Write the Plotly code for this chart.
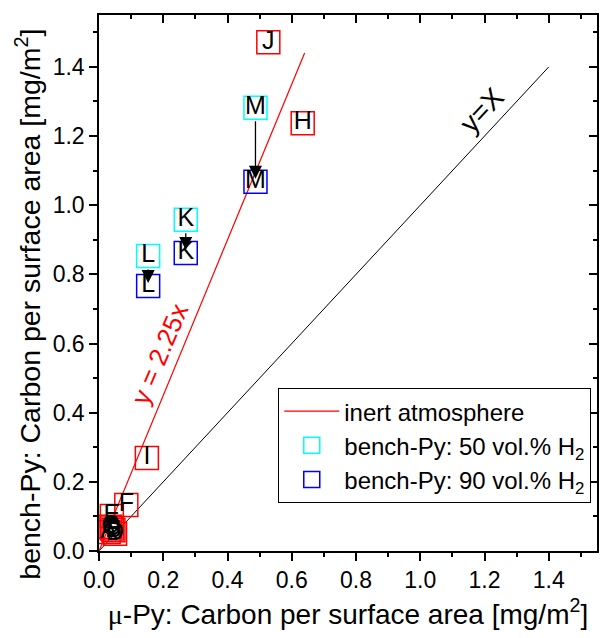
import plotly.graph_objects as go

# ---- data ----
inert_labels = ["A", "B", "C", "D", "G", "E", "F", "I", "H", "J"]
inert_x = [0.030, 0.045, 0.035, 0.050, 0.040, 0.040, 0.085, 0.149, 0.634, 0.527]
inert_y = [0.055, 0.060, 0.070, 0.050, 0.065, 0.101, 0.133, 0.269, 1.237, 1.471]

h50_labels = ["M", "K", "L"]
h50_x = [0.487, 0.270, 0.153]
h50_y = [1.282, 0.958, 0.853]

h90_labels = ["M", "K", "L"]
h90_x = [0.487, 0.270, 0.153]
h90_y = [1.068, 0.862, 0.766]

fit_slope = 2.25
fit_x = [0.0, 0.64]
fit_y = [fit_slope * v for v in fit_x]

ident_x = [0.0, 1.4]
ident_y = [0.0, 1.4]

axis_range = [0, 1.55]
FONT = "Liberation Sans, Arial, sans-serif"

fig = go.Figure()

# y = x reference line
fig.add_trace(go.Scatter(x=ident_x, y=ident_y, mode="lines",
                         line=dict(color="black", width=1), showlegend=False,
                         hoverinfo="skip"))
# fit line (inert atmosphere)
fig.add_trace(go.Scatter(x=fit_x, y=fit_y, mode="lines", name="inert atmosphere",
                         line=dict(color="red", width=1.2)))

# inert atmosphere points
fig.add_trace(go.Scatter(x=inert_x, y=inert_y, mode="markers+text", text=inert_labels,
                         textposition="middle center",
                         textfont=dict(size=25, color="black", family=FONT),
                         marker=dict(symbol="square-open", size=23,
                                     line=dict(color="red", width=1.5), color="red"),
                         showlegend=False))

# 50 vol.% H2
fig.add_trace(go.Scatter(x=h50_x, y=h50_y, mode="markers",
                         name="bench-Py: 50 vol.% H<sub>2</sub>",
                         marker=dict(symbol="square-open", size=23, color="#00ffff",
                                     line=dict(color="#00ffff", width=1.5))))
fig.add_trace(go.Scatter(x=h50_x, y=h50_y, mode="text", text=h50_labels,
                         textposition="middle center",
                         textfont=dict(size=25, color="black", family=FONT),
                         showlegend=False))
# 90 vol.% H2
fig.add_trace(go.Scatter(x=h90_x, y=h90_y, mode="markers",
                         name="bench-Py: 90 vol.% H<sub>2</sub>",
                         marker=dict(symbol="square-open", size=23, color="#0000ff",
                                     line=dict(color="#0000ff", width=1.5))))
fig.add_trace(go.Scatter(x=h90_x, y=h90_y, mode="text", text=h90_labels,
                         textposition="middle center",
                         textfont=dict(size=25, color="black", family=FONT),
                         showlegend=False))

# empty trace for mirrored inside ticks
fig.add_trace(go.Scatter(x=[], y=[], xaxis="x2", yaxis="y2", showlegend=False,
                         hoverinfo="skip"))

annotations = []
for xa, ya, xb, yb in zip(h50_x, h50_y, h90_x, h90_y):
    annotations.append(dict(x=xb, y=yb, ax=xa, ay=ya, xref="x", yref="y",
                            axref="x", ayref="y", text="", showarrow=True,
                            arrowhead=2, arrowsize=2.0, arrowwidth=1.3,
                            arrowcolor="black", standoff=3, startstandoff=12))

annotations.append(dict(x=1.19, y=1.275, xref="x", yref="y", text="y=X",
                        showarrow=False, textangle=-47,
                        font=dict(size=28, color="black", family=FONT)))
annotations.append(dict(x=0.188, y=0.571, xref="x", yref="y", text="y = 2.25x",
                        showarrow=False, textangle=-67,
                        font=dict(size=26, color="red", family=FONT)))
# y-axis title (placed as in the reference, slightly below the axis centre)
annotations.append(dict(x=-0.142, y=0.46, xref="paper", yref="paper",
                        text="bench-Py: Carbon per surface area [mg/m<sup>2</sup>]",
                        showarrow=False, textangle=-90, xanchor="center", yanchor="middle",
                        font=dict(size=28.5, color="black", family=FONT)))

axis_common = dict(range=axis_range, dtick=0.2, tick0=0, tickformat=".1f",
                   showgrid=False, zeroline=False, showline=True, linecolor="black",
                   linewidth=1.5, mirror=True, ticks="outside", ticklen=8,
                   tickwidth=1.5, tickcolor="black",
                   tickfont=dict(size=23, color="black", family=FONT),
                   minor=dict(dtick=0.1, ticks="outside", ticklen=4, tickwidth=1.5,
                              tickcolor="black", showgrid=False))

fig.update_layout(
    width=600, height=638,
    margin=dict(l=99, r=1, t=15, b=87),
    paper_bgcolor="white", plot_bgcolor="white",
    font=dict(family=FONT, color="black"),
    xaxis=dict(**axis_common,
               title=dict(text="<span style='font-family:Liberation Serif'>μ</span>-Py: Carbon per surface area [mg/m<sup>2</sup>]",
                          font=dict(size=28, family=FONT), standoff=12)),
    yaxis=dict(**axis_common),
    xaxis2=dict(range=axis_range, overlaying="x", side="top", anchor="y",
                dtick=0.2, tick0=0, showticklabels=False, showgrid=False,
                zeroline=False, showline=False, ticks="inside", ticklen=8,
                tickwidth=1.5, tickcolor="black",
                minor=dict(dtick=0.1, ticks="inside", ticklen=4, tickwidth=1.5,
                           tickcolor="black", showgrid=False)),
    yaxis2=dict(range=axis_range, overlaying="y", side="right", anchor="x",
                dtick=0.2, tick0=0, showticklabels=False, showgrid=False,
                zeroline=False, showline=False, ticks="inside", ticklen=8,
                tickwidth=1.5, tickcolor="black",
                minor=dict(dtick=0.1, ticks="inside", ticklen=4, tickwidth=1.5,
                           tickcolor="black", showgrid=False)),
    legend=dict(x=0.36, y=0.304, xanchor="left", yanchor="top",
                bordercolor="black", borderwidth=1, bgcolor="white",
                font=dict(size=24, family=FONT, color="black"),
                itemsizing="trace", itemwidth=55, tracegroupgap=0),
    annotations=annotations,
    showlegend=True,
)

fig.write_html("out.html")
